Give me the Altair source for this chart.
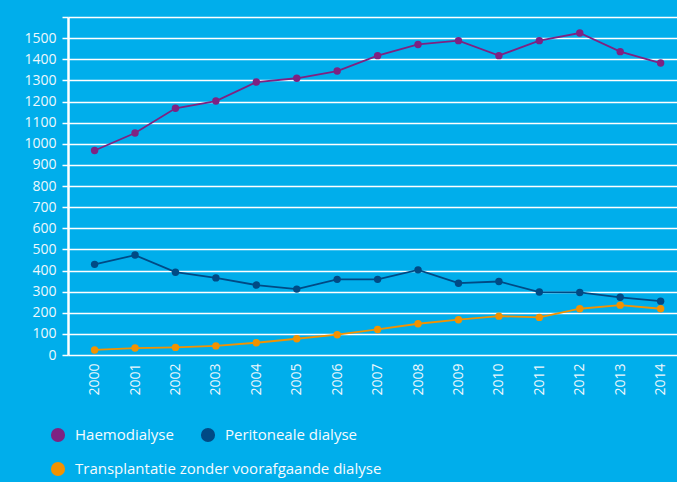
import altair as alt
import pandas as pd
import jinja2

years = list(range(2000, 2015))
haemo = [968, 1051, 1168, 1202, 1292, 1310, 1344, 1417, 1470, 1488, 1417, 1488, 1524, 1436, 1382]
perit = [429, 473, 392, 365, 331, 312, 358, 358, 403, 340, 348, 298, 296, 273, 255]
trans = [24, 33, 36, 43, 58, 77, 96, 121, 148, 167, 184, 178, 219, 236, 219]

series = ["Haemodialyse", "Peritoneale dialyse", "Transplantatie zonder voorafgaande dialyse"]
colors = ["#7E2282", "#004A85", "#F39200"]
y_ticks = list(range(0, 1700, 100))
BG = "#00AEEB"

rows = []
for name, vals in zip(series, [haemo, perit, trans]):
    for yr, v in zip(years, vals):
        rows.append({"jaar": yr, "aantal": v, "reeks": name})
df = pd.DataFrame(rows)

font = "Open Sans"
txt = "#EEF8FD"

x = alt.X("jaar:Q",
          scale=alt.Scale(domain=[1999.342, 2014.405], nice=False, zero=False),
          axis=alt.Axis(values=years, title=None, grid=False, domain=False, ticks=False,
                        labelAngle=270, labelAlign="right", labelBaseline="middle",
                        labelPadding=8, labelFontSize=14, labelColor=txt, labelFont=font,
                        format="d", labelFlush=False))
y = alt.Y("aantal:Q",
          scale=alt.Scale(domain=[0, 1600], nice=False),
          axis=alt.Axis(values=y_ticks, title=None, grid=True, gridColor="#FFFFFF",
                        gridWidth=1.5, domain=True, domainColor="#FFFFFF", domainWidth=2.5,
                        ticks=True, tickColor="#FFFFFF", tickSize=6, tickWidth=1.5,
                        labelPadding=6, labelFontSize=14, labelColor=txt, labelFont=font,
                        format="d",
                        labelExpr="datum.value < 1600 ? datum.label : ''"))


def legend_at(ly):
    return alt.Legend(title=None, orient="none", legendX=-18, legendY=ly,
                      direction="horizontal", columnPadding=26, symbolType="circle",
                      symbolSize=200, symbolOpacity=1, labelFontSize=15,
                      labelColor="#F6FBFE", labelFont=font, labelOffset=9,
                      padding=0, labelLimit=500)


lines = alt.Chart(df).mark_line(strokeWidth=1.8).encode(
    x=x, y=y,
    color=alt.Color("reeks:N", scale=alt.Scale(domain=series, range=colors), legend=None),
    detail="reeks:N",
)
points_a = alt.Chart(df).transform_filter(
    alt.FieldOneOfPredicate(field="reeks", oneOf=series[:2])
).mark_circle(size=55, opacity=1).encode(
    x=x, y=y,
    color=alt.Color("reeks:N", scale=alt.Scale(domain=series[:2], range=colors[:2]),
                    legend=legend_at(410)),
)
points_b = alt.Chart(df).transform_filter(
    alt.FieldOneOfPredicate(field="reeks", oneOf=series[2:])
).mark_circle(size=55, opacity=1).encode(
    x=x, y=y,
    color=alt.Color("reeks:N", scale=alt.Scale(domain=series[2:], range=colors[2:]),
                    legend=legend_at(444)),
)

chart = alt.layer(lines, points_a, points_b).resolve_scale(color="independent").properties(
    width=609, height=338,
    autosize=alt.AutoSizeParams(type="none"),
    padding={"left": 68, "top": 17, "right": 0, "bottom": 127},
    background=BG,
).configure_view(stroke=None)

page = jinja2.Template("""<!DOCTYPE html>
<html>
<head>
  <meta charset="utf-8">
  <style>
    html, body { margin: 0; padding: 0; background: """ + BG + """; overflow: hidden; }
    #{{ output_div }}.vega-embed { width: 100%; display: flex; }
  </style>
  <script type="text/javascript" src="{{ base_url }}/vega@{{ vega_version }}"></script>
  <script type="text/javascript" src="{{ base_url }}/vega-lite@{{ vegalite_version }}"></script>
  <script type="text/javascript" src="{{ base_url }}/vega-embed@{{ vegaembed_version }}"></script>
</head>
<body>
  <div id="{{ output_div }}"></div>
  <script>
    (function(vegaEmbed) {
      var spec = {{ spec }};
      var embedOpt = {{ embed_options }};
      function showError(el, error){
        el.innerHTML = '<div style="color:red;"><p>JavaScript Error: ' + error.message + '</p></div>';
        throw error;
      }
      const el = document.getElementById('{{ output_div }}');
      vegaEmbed("#{{ output_div }}", spec, embedOpt).catch(error => showError(el, error));
    })(vegaEmbed);
  </script>
</body>
</html>
""")

chart.save("out.html", embed_options={"renderer": "svg", "actions": False}, template=page)
